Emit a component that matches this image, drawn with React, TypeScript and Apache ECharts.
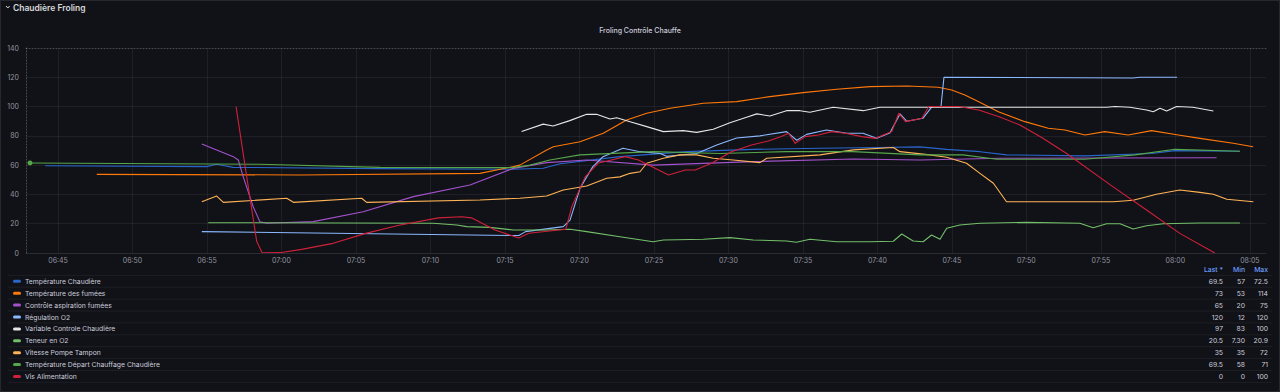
import React, { useEffect, useRef } from "react";
import * as echarts from "echarts";

// ---------- DATA ----------
const seriesNames = [
  "Température Chaudière",
  "Température des fumées",
  "Contrôle aspiration fumées",
  "Régulation O2",
  "Variable Controle Chaudière",
  "Teneur en O2",
  "Vitesse Pompe Tampon",
  "Température Départ Chauffage Chaudière",
  "Vis Alimentation",
];
const seriesColors = [
  "#2966CC",
  "#FF780A",
  "#A352CC",
  "#8AB8FF",
  "#E6E6E6",
  "#73BF69",
  "#FFB357",
  "#56A64B",
  "#D0203A",
];

const tempChaudiere: [string, number][] = [
  ["06:44:08", 59.6], ["06:54:59", 59], ["06:55:39", 60.6], ["06:56:45", 58.5],
  ["07:06:37", 57.6], ["07:15:33", 57.2], ["07:17:34", 57.9], ["07:18:42", 61],
  ["07:22:43", 65.8], ["07:27:12", 69.2], ["07:31:40", 70.8], ["07:36:09", 71.5],
  ["07:40:10", 72], ["07:42:51", 72.5], ["07:44:39", 70.8], ["07:46:53", 69.2],
  ["07:48:40", 67], ["07:53:56", 66.3], ["07:58:24", 68], ["07:59:58", 69.9],
  ["08:04:20", 69.5],
];
const tempFumees: [string, number][] = [
  ["06:47:36", 53.7], ["07:01:15", 53.3], ["07:13:19", 54.4], ["07:15:34", 59],
  ["07:16:00", 60], ["07:17:48", 70.4], ["07:18:15", 72.6], ["07:20:02", 76],
  ["07:21:36", 81.8], ["07:23:10", 90.8], ["07:24:31", 95.4], ["07:26:05", 98.8],
  ["07:28:19", 102.3], ["07:30:33", 103.4], ["07:32:47", 106.8], ["07:35:01", 109.5],
  ["07:37:16", 111.8], ["07:39:30", 113.6], ["07:42:00", 114], ["07:44:05", 113.2],
  ["07:44:59", 111.3], ["07:45:52", 107.9], ["07:46:46", 103.4], ["07:48:07", 96.5],
  ["07:49:54", 89.7], ["07:51:28", 85.2], ["07:52:35", 84], ["07:53:56", 80.6],
  ["07:55:16", 82.9], ["07:56:50", 80.6], ["07:58:24", 83.6], ["08:00:12", 80.6],
  ["08:01:39", 78.3], ["08:03:53", 74.9], ["08:05:13", 72.6],
];
const aspirationFumees: [string, number][] = [
  ["06:54:39", 74.4], ["06:56:46", 65.8], ["06:57:06", 63.5], ["06:57:26", 52],
  ["06:58:06", 31.6], ["06:58:33", 21.4], ["06:59:00", 20.3], ["07:02:08", 21.4],
  ["07:05:29", 28.2], ["07:08:51", 38.5], ["07:12:39", 46.4], ["07:15:34", 57.8],
  ["07:17:48", 61.7], ["07:20:29", 63.5], ["07:24:57", 60], ["07:31:40", 62.4],
  ["07:38:23", 64.2], ["07:42:51", 63.5], ["07:48:14", 64.7], ["08:02:46", 65],
];
const regulationO2: [string, number][] = [
  ["06:54:39", 14.6], ["07:15:56", 11.9], ["07:16:23", 14.6], ["07:18:55", 18],
  ["07:19:22", 22.5], ["07:20:02", 44], ["07:20:29", 52], ["07:20:54", 59],
  ["07:21:35", 65.8], ["07:22:55", 71.5], ["07:24:04", 69.2], ["07:25:25", 68],
  ["07:25:51", 66], ["07:27:52", 68], ["07:29:13", 73.8], ["07:30:33", 78.5],
  ["07:32:07", 80], ["07:33:54", 82.9], ["07:34:35", 77], ["07:35:15", 81],
  ["07:36:35", 84], ["07:37:56", 81.8], ["07:39:02", 81.8], ["07:39:57", 78.3],
  ["07:40:50", 82], ["07:41:31", 95], ["07:41:58", 90], ["07:43:03", 92],
  ["07:43:40", 100], ["07:44:16", 100], ["07:44:28", 120], ["07:57:09", 119.5],
  ["07:57:38", 120], ["08:00:07", 120],
];
const variableControle: [string, number][] = [
  ["07:16:07", 83], ["07:17:34", 88], ["07:18:14", 86.7], ["07:19:21", 90.4],
  ["07:20:29", 94.7], ["07:21:09", 94.7], ["07:22:03", 91.5], ["07:22:30", 92.4],
  ["07:23:24", 89.7], ["07:24:31", 86.3], ["07:25:38", 82.9], ["07:26:58", 83.6],
  ["07:27:52", 82.4], ["07:28:59", 84.5], ["07:30:06", 89], ["07:31:13", 92.7],
  ["07:31:54", 95], ["07:32:47", 93.6], ["07:33:54", 97.2], ["07:34:48", 97.2],
  ["07:35:28", 96.1], ["07:37:02", 99.5], ["07:39:03", 97.2], ["07:40:10", 99.5],
  ["07:55:23", 99.5], ["07:55:57", 100], ["07:56:57", 99.5], ["07:58:04", 97.7],
  ["07:58:31", 96.5], ["07:58:58", 98.8], ["07:59:25", 97], ["08:00:05", 100],
  ["08:01:11", 99.5], ["08:02:33", 97],
];
const teneurO2: [string, number][] = [
  ["06:55:05", 20.7], ["07:10:11", 20.3], ["07:11:46", 19.1], ["07:12:26", 18],
  ["07:13:59", 17.5], ["07:15:34", 15.7], ["07:17:48", 15.7], ["07:19:22", 16.2],
  ["07:20:29", 14.6], ["07:22:43", 11.1], ["07:24:57", 7.7], ["07:25:38", 8.9],
  ["07:28:19", 9.4], ["07:30:06", 10.5], ["07:31:40", 8.9], ["07:33:54", 8.2],
  ["07:34:34", 7.3], ["07:35:28", 9.4], ["07:37:16", 7.7], ["07:39:30", 7.7],
  ["07:41:04", 8], ["07:41:38", 13], ["07:42:24", 8.2], ["07:43:04", 7.7],
  ["07:43:38", 12.3], ["07:44:12", 9.4], ["07:44:39", 16.9], ["07:45:32", 19.1],
  ["07:46:53", 20.3], ["07:50:00", 20.9], ["07:53:35", 20.3], ["07:54:29", 17.3],
  ["07:55:23", 20], ["07:56:17", 20], ["07:57:10", 16.4], ["07:58:04", 18.6],
  ["07:59:11", 20], ["08:01:39", 20.5], ["08:04:20", 20.5],
];
const vitessePompe: [string, number][] = [
  ["06:54:39", 35], ["06:55:39", 38.9], ["06:56:06", 34.6], ["07:00:21", 37.4],
  ["07:00:48", 34.6], ["07:05:23", 37.4], ["07:05:43", 34.6], ["07:13:19", 36.2],
  ["07:16:00", 37.4], ["07:17:48", 38.9], ["07:18:55", 43], ["07:20:29", 45.8],
  ["07:21:50", 51], ["07:22:43", 52], ["07:23:24", 54.4], ["07:24:04", 55.5],
  ["07:24:31", 61.3], ["07:25:38", 64.7], ["07:26:45", 67], ["07:27:52", 67],
  ["07:28:59", 64.7], ["07:30:19", 63.5], ["07:32:07", 61.7], ["07:32:34", 64.7],
  ["07:36:09", 67], ["07:38:23", 70.4], ["07:41:04", 72], ["07:41:31", 69.2],
  ["07:43:31", 67], ["07:44:39", 65.4], ["07:45:59", 61.3], ["07:46:53", 54.4],
  ["07:47:47", 47.6], ["07:48:40", 35], ["07:55:50", 35], ["07:57:10", 36],
  ["07:58:44", 40.1], ["08:00:18", 43], ["08:01:39", 41.4], ["08:02:33", 40.1],
  ["08:03:27", 36.7], ["08:05:14", 35],
];
const tempDepart: [string, number][] = [
  ["06:43:07", 61.5], ["06:58:33", 60.6], ["07:06:37", 58.5], ["07:15:32", 58.3],
  ["07:16:41", 60], ["07:18:01", 63.5], ["07:20:02", 67], ["07:24:57", 69.2],
  ["07:29:26", 68], ["07:33:54", 69.2], ["07:38:21", 69.2], ["07:42:51", 67],
  ["07:45:45", 67], ["07:48:00", 64], ["07:53:56", 64], ["07:57:17", 67],
  ["07:59:58", 70.8], ["08:04:20", 69.5],
];
const visAlimentation: [string, number][] = [
  ["06:56:57", 100], ["06:57:40", 52], ["06:58:20", 8], ["06:58:41", 0.5],
  ["07:00:00", 0.3], ["07:01:21", 2.5], ["07:03:28", 6.6], ["07:05:39", 13.4],
  ["07:07:53", 19], ["07:10:32", 24], ["07:12:05", 24.8], ["07:12:45", 24],
  ["07:14:20", 15.7], ["07:15:56", 10.2], ["07:16:36", 13.5], ["07:19:05", 16.2],
  ["07:19:29", 31.6], ["07:20:23", 52], ["07:21:17", 61.5], ["07:22:09", 63.5],
  ["07:23:04", 65.8], ["07:23:58", 63.5], ["07:24:50", 59], ["07:25:59", 53.3],
  ["07:27:06", 56.7], ["07:27:46", 56.7], ["07:28:52", 61.3], ["07:30:12", 69.2],
  ["07:31:33", 73.8], ["07:32:41", 76.5], ["07:33:33", 79.5], ["07:34:02", 81.8],
  ["07:34:29", 74.9], ["07:35:09", 79.5], ["07:36:03", 80.6], ["07:36:55", 82.9],
  ["07:37:51", 81.8], ["07:38:57", 79.5], ["07:39:52", 78.3], ["07:40:58", 82.9],
  ["07:41:26", 95.4], ["07:41:53", 89.7], ["07:42:59", 92], ["07:43:27", 100],
  ["07:45:28", 100], ["07:46:48", 97.7], ["07:48:10", 93], ["07:49:34", 87.4],
  ["07:51:05", 78.5], ["07:52:42", 68], ["07:55:48", 45.3], ["07:58:04", 29.4],
  ["08:00:18", 13.4], ["08:02:39", 0],
];

const allSeries = [
  tempChaudiere, tempFumees, aspirationFumees, regulationO2, variableControle,
  teneurO2, vitessePompe, tempDepart, visAlimentation,
];

const legendHeaders = ["Last *", "Min", "Max"];
const legendLast = ["69.5", "73", "65", "120", "97", "20.5", "35", "69.5", "0"];
const legendMin = ["57", "53", "20", "12", "83", "7.30", "35", "58", "0"];
const legendMax = ["72.5", "114", "75", "120", "100", "20.9", "72", "71", "100"];

const rowTitle = "Chaudière Froling";
const panelTitle = "Froling Contrôle Chauffe";
const xStart = "06:42:51";
const xEnd = "08:06:05";
const yMin = 0;
const yMax = 140;
const yStep = 20;
const xStepMinutes = 5;

// ---------- HELPERS ----------
const parseT = (s: string) => {
  const [h, m, sec] = s.split(":").map(Number);
  return h * 60 + m + (sec || 0) / 60;
};
const fmtT = (v: number) => {
  const r = Math.round(v);
  const h = Math.floor(r / 60);
  const m = r % 60;
  return `${String(h).padStart(2, "0")}:${String(m).padStart(2, "0")}`;
};

const FONT = "Inter, 'Noto Sans', sans-serif";
const BG = "#111217";
const TEXT = "#ccccdc";
const GRID = "rgba(204,204,220,0.08)";

export default function App() {
  const ref = useRef<HTMLDivElement>(null);
  useEffect(() => {
    document.body.style.margin = "0";
    document.body.style.background = BG;
    if (!ref.current) return;
    const chart = echarts.init(ref.current, undefined, { renderer: "svg" });

    const series: any[] = allSeries.map((d, i) => ({
      name: seriesNames[i],
      type: "line",
      data: d.map(([t, v]) => [parseT(t), v]),
      showSymbol: i === 7,
      symbol: "circle",
      symbolSize: i === 7 ? (_v: any, p: any) => (p.dataIndex === 0 ? 5 : 0) : 4,
      smooth: false,
      lineStyle: { width: 1.1, color: seriesColors[i], join: "round" },
      itemStyle: { color: seriesColors[i] },
      emphasis: { disabled: true },
      z: 2 + i,
    }));

    const rowY0 = 281.3;
    const rowH = 11.9;
    const colRight = [1223, 1245, 1268];
    const graphics: any[] = [];
    graphics.push({
      type: "rect",
      shape: { x: 0.5, y: 0.5, width: 1279, height: 391 },
      style: { fill: "none", stroke: "rgba(204,204,220,0.12)", lineWidth: 1 },
      silent: true,
    });
    graphics.push({
      type: "polyline",
      shape: { points: [[6, 6], [7.8, 8], [9.6, 6]] },
      style: { stroke: "#d8d9da", lineWidth: 1, fill: "none" },
    });
    graphics.push({
      type: "text",
      x: 13,
      y: 7.5,
      style: {
        text: rowTitle, fill: "#d8d9da", fontSize: 8.5, fontWeight: 600,
        fontFamily: FONT, textVerticalAlign: "middle",
      },
    });
    legendHeaders.forEach((h, k) => {
      graphics.push({
        type: "text", x: colRight[k], y: 269.5,
        style: {
          text: h, fill: "#6E9FFF", fontSize: 6.8, fontWeight: 500, fontFamily: FONT,
          textAlign: "right", textVerticalAlign: "middle",
        },
      });
    });
    seriesNames.forEach((n, i) => {
      const y = rowY0 + i * rowH;
      graphics.push({
        type: "line",
        shape: { x1: 8, y1: y - 6, x2: 1272, y2: y - 6 },
        style: { stroke: "rgba(204,204,220,0.07)", lineWidth: 1 },
      });
      graphics.push({
        type: "rect",
        shape: { x: 13, y: y - 1.5, width: 8, height: 3, r: 1.5 },
        style: { fill: seriesColors[i] },
      });
      graphics.push({
        type: "text", x: 25, y,
        style: {
          text: n, fill: TEXT, fontSize: 6.8, fontFamily: FONT, textVerticalAlign: "middle",
        },
      });
      [legendLast[i], legendMin[i], legendMax[i]].forEach((val, k) => {
        graphics.push({
          type: "text", x: colRight[k], y,
          style: {
            text: val, fill: TEXT, fontSize: 6.8, fontFamily: FONT,
            textAlign: "right", textVerticalAlign: "middle",
          },
        });
      });
    });
    graphics.push({
      type: "line",
      shape: { x1: 8, y1: rowY0 + 9 * rowH - 6, x2: 1272, y2: rowY0 + 9 * rowH - 6 },
      style: { stroke: "rgba(204,204,220,0.07)", lineWidth: 1 },
    });

    const xMin = parseT(xStart);
    const xMax = parseT(xEnd);

    chart.setOption({
      animation: false,
      backgroundColor: BG,
      textStyle: { fontFamily: FONT },
      title: {
        text: panelTitle,
        left: "center",
        top: 22,
        textStyle: { color: TEXT, fontSize: 7, fontWeight: 500, fontFamily: FONT },
      },
      grid: { left: 26, right: 14, top: 48, bottom: 139, containLabel: false },
      xAxis: [
        {
          type: "value",
          min: xMin,
          max: xMax,
          splitNumber: 16,
          minInterval: xStepMinutes,
          maxInterval: xStepMinutes,
          axisLine: { show: true, lineStyle: { color: GRID } },
          axisTick: { show: false },
          axisLabel: {
            color: "rgba(204,204,220,0.7)", fontSize: 7, margin: 4, fontFamily: FONT,
            showMinLabel: false, showMaxLabel: false,
            formatter: (v: number) => fmtT(v),
          },
          splitLine: {
            show: true, showMinLine: false, showMaxLine: false,
            lineStyle: { color: GRID, width: 1 },
          },
        },
        {
          type: "value",
          position: "top",
          min: xMin,
          max: xMax,
          axisLine: { show: true, lineStyle: { color: "rgba(204,204,220,0.3)", type: [1, 2] } },
          axisTick: { show: false },
          axisLabel: { show: false },
          splitLine: { show: false },
        },
      ],
      yAxis: {
        type: "value",
        min: yMin,
        max: yMax,
        interval: yStep,
        axisLine: { show: true, lineStyle: { color: "rgba(204,204,220,0.3)", type: [1, 2] } },
        axisTick: { show: false },
        axisLabel: { color: "rgba(204,204,220,0.7)", fontSize: 7, margin: 7, fontFamily: FONT },
        splitLine: {
          show: true, showMaxLine: false,
          lineStyle: { color: GRID, width: 1 },
        },
      },
      series,
      graphic: graphics,
    });
    return () => chart.dispose();
  }, []);
  return <div ref={ref} style={{ width: 1280, height: 392 }} />;
}
